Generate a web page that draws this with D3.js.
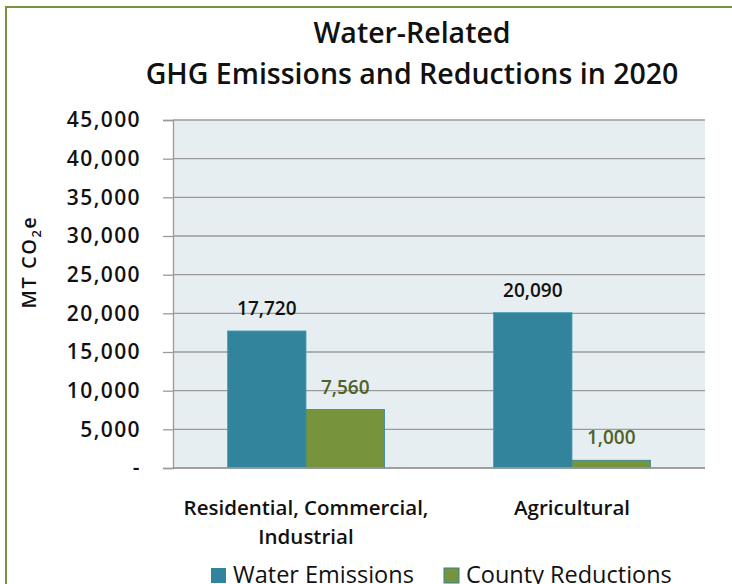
<!DOCTYPE html>
<html><head><meta charset="utf-8">
<script src="https://cdn.jsdelivr.net/npm/d3@7"></script>
<style>
body{margin:0;background:#fff;}
text{font-family:"Open Sans","DejaVu Sans",sans-serif;}
</style></head>
<body><svg id="c" width="732" height="584"></svg>
<script>
const categories = ["Residential, Commercial,|Industrial", "Agricultural"];
const seriesNames = ["Water Emissions", "County Reductions"];
const waterEmissions = [17720, 20090];
const countyReductions = [7560, 1000];
const yTicks = [0, 5000, 10000, 15000, 20000, 25000, 30000, 35000, 40000, 45000];
const titleLines = ["Water-Related", "GHG Emissions and Reductions in 2020"];

const colors = ["#31849B", "#77933C"];
const labelColors = ["#111111", "#4F6228"];

const svg = d3.select("#c");
// outer chart border
svg.append("rect").attr("x",6).attr("y",7).attr("width",900).attr("height",900)
  .attr("fill","#fff").attr("stroke","#77933C").attr("stroke-width",2);

const m = {left:173, right:705, top:120, bottom:468};
const y = d3.scaleLinear().domain([0,45000]).range([m.bottom, m.top]);
const x0 = d3.scaleBand().domain(categories).range([m.left, m.right]).paddingInner(0.41).paddingOuter(0.205);
const x1 = d3.scaleBand().domain(seriesNames).range([0, x0.bandwidth()]).padding(0);

// plot background
svg.append("rect").attr("x",m.left).attr("y",m.top).attr("width",m.right-m.left).attr("height",m.bottom-m.top)
  .attr("fill","#E7EEF2");

// gridlines
svg.append("g").selectAll("line").data(yTicks).join("line")
  .attr("x1",m.left).attr("x2",m.right).attr("y1",d=>y(d)).attr("y2",d=>y(d))
  .attr("stroke","#9a9a9a").attr("stroke-width",1.3);

// y axis
const fmt = d3.format(",");
const yAxis = d3.axisLeft(y).tickValues(yTicks).tickSize(10).tickPadding(22)
  .tickFormat(d => d===0 ? "-" : fmt(d));
const gy = svg.append("g").attr("transform",`translate(${m.left},0)`).call(yAxis);
gy.select(".domain").attr("stroke","#9a9a9a").attr("stroke-width",1.3);
gy.selectAll(".tick line").attr("stroke","#9a9a9a").attr("stroke-width",1.3);
gy.selectAll(".tick text").attr("font-size",21).attr("font-weight",600).attr("fill","#111")
  .attr("letter-spacing","1.4px")
  .attr("font-family","'Open Sans',sans-serif");

// bars
const data = categories.map((c,i)=>({cat:c, vals:[waterEmissions[i], countyReductions[i]]}));
const groups = svg.append("g").selectAll("g").data(data).join("g")
  .attr("transform",d=>`translate(${x0(d.cat)},0)`);
groups.selectAll("rect").data(d=>d.vals.map((v,j)=>({name:seriesNames[j], v, j}))).join("rect")
  .attr("x",d=>x1(d.name)).attr("width",x1.bandwidth())
  .attr("y",d=>y(d.v)).attr("height",d=>y(0)-y(d.v))
  .attr("fill",d=>colors[d.j]).attr("stroke",d=>d.j===1?"#31849B":"#4aa0b5").attr("stroke-width",0.8);
groups.selectAll("text").data(d=>d.vals.map((v,j)=>({name:seriesNames[j], v, j}))).join("text")
  .attr("x",d=>x1(d.name)+x1.bandwidth()/2).attr("y",d=>y(d.v)-16)
  .attr("text-anchor","middle").attr("font-size",19).attr("font-weight",600)
  .attr("fill",d=>labelColors[d.j]).text(d=>fmt(d.v));

// x baseline
svg.append("line").attr("x1",m.left).attr("x2",m.right).attr("y1",y(0)).attr("y2",y(0))
  .attr("stroke","#9a9a9a").attr("stroke-width",1.5);

// category labels
const cl = svg.append("g").selectAll("text").data(categories).join("text")
  .attr("x",d=>x0(d)+x0.bandwidth()/2).attr("y",515)
  .attr("text-anchor","middle").attr("font-size",20.5).attr("font-weight",600).attr("fill","#111");
cl.each(function(d){
  const parts = d.split("|");
  d3.select(this).selectAll("tspan").data(parts).join("tspan")
    .attr("x",x0(d)+x0.bandwidth()/2).attr("dy",(p,i)=>i===0?0:29).text(p=>p);
});

// title
svg.append("g").selectAll("text").data(titleLines).join("text")
  .attr("x",412).attr("y",(d,i)=>43+i*41).attr("text-anchor","middle")
  .attr("font-size",28.5).attr("font-weight",600).attr("fill","#111").text(d=>d);

// y title
const yt = svg.append("text").attr("transform","translate(36,262) rotate(-90)")
  .attr("text-anchor","middle").attr("font-size",20).attr("font-weight",600).attr("fill","#111")
  .attr("letter-spacing","1.5px");
yt.append("tspan").text("MT CO");
yt.append("tspan").attr("font-size",13).attr("dy",5).text("2");
yt.append("tspan").attr("dy",-5).text("e");

// legend
const lg = svg.append("g");
const legX = [211, 444];
seriesNames.forEach((s,i)=>{
  lg.append("rect").attr("x",legX[i]).attr("y",568).attr("width",15).attr("height",15)
    .attr("fill",colors[i]).attr("stroke",i===1?"#31849B":"none");
  lg.append("text").attr("x",legX[i]+22).attr("y",583).attr("font-size",23.5)
    .attr("fill","#111").text(s);
});
</script></body></html>
